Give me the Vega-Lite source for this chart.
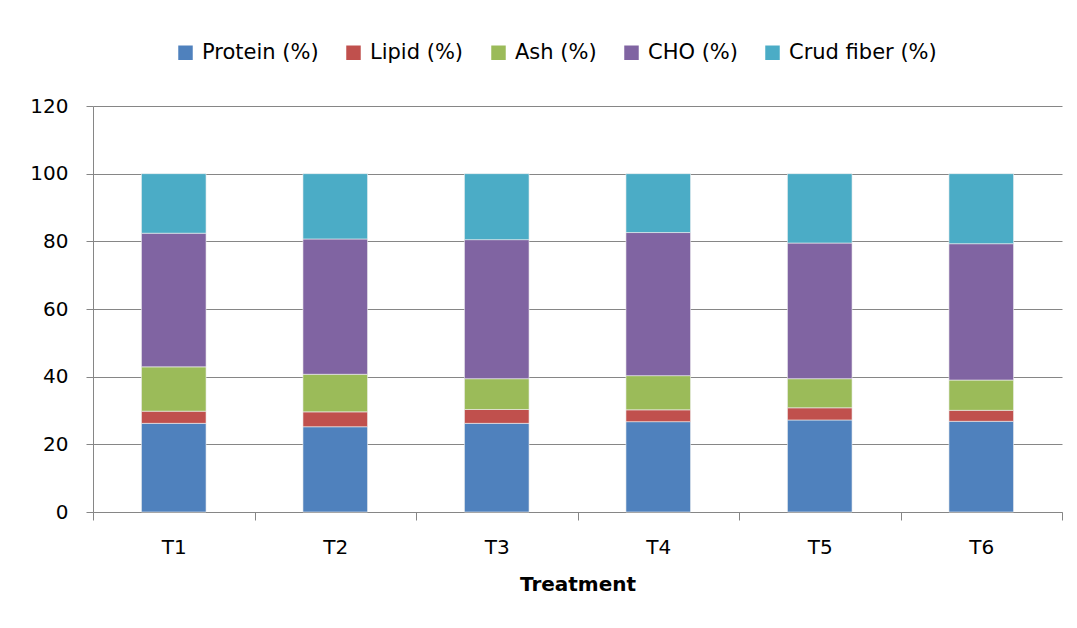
{
  "$schema": "https://vega.github.io/schema/vega-lite/v6.json",
  "width": 969,
  "height": 406,
  "autosize": {"type": "none"},
  "padding": {"left": 93, "top": 106, "right": 15, "bottom": 116},
  "background": "white",
  "config": {
    "font": "DejaVu Sans",
    "view": {"stroke": null},
    "axis": {"labelFont": "DejaVu Sans", "labelFontSize": 20, "labelColor": "black", "titleFont": "DejaVu Sans"}
  },
  "data": {
    "values": [
      {"treatment": "T1", "component": "Protein (%)", "value": 26.2},
      {"treatment": "T1", "component": "Lipid (%)", "value": 3.6},
      {"treatment": "T1", "component": "Ash (%)", "value": 13.1},
      {"treatment": "T1", "component": "CHO (%)", "value": 39.5},
      {"treatment": "T1", "component": "Crud fiber (%)", "value": 17.6},
      {"treatment": "T2", "component": "Protein (%)", "value": 25.2},
      {"treatment": "T2", "component": "Lipid (%)", "value": 4.4},
      {"treatment": "T2", "component": "Ash (%)", "value": 11.1},
      {"treatment": "T2", "component": "CHO (%)", "value": 40.0},
      {"treatment": "T2", "component": "Crud fiber (%)", "value": 19.3},
      {"treatment": "T3", "component": "Protein (%)", "value": 26.2},
      {"treatment": "T3", "component": "Lipid (%)", "value": 4.1},
      {"treatment": "T3", "component": "Ash (%)", "value": 9.1},
      {"treatment": "T3", "component": "CHO (%)", "value": 41.1},
      {"treatment": "T3", "component": "Crud fiber (%)", "value": 19.5},
      {"treatment": "T4", "component": "Protein (%)", "value": 26.7},
      {"treatment": "T4", "component": "Lipid (%)", "value": 3.5},
      {"treatment": "T4", "component": "Ash (%)", "value": 10.1},
      {"treatment": "T4", "component": "CHO (%)", "value": 42.3},
      {"treatment": "T4", "component": "Crud fiber (%)", "value": 17.4},
      {"treatment": "T5", "component": "Protein (%)", "value": 27.2},
      {"treatment": "T5", "component": "Lipid (%)", "value": 3.6},
      {"treatment": "T5", "component": "Ash (%)", "value": 8.6},
      {"treatment": "T5", "component": "CHO (%)", "value": 40.1},
      {"treatment": "T5", "component": "Crud fiber (%)", "value": 20.5},
      {"treatment": "T6", "component": "Protein (%)", "value": 26.8},
      {"treatment": "T6", "component": "Lipid (%)", "value": 3.25},
      {"treatment": "T6", "component": "Ash (%)", "value": 8.95},
      {"treatment": "T6", "component": "CHO (%)", "value": 40.3},
      {"treatment": "T6", "component": "Crud fiber (%)", "value": 20.7}
    ]
  },
  "transform": [
    {"calculate": "indexof(['Protein (%)', 'Lipid (%)', 'Ash (%)', 'CHO (%)', 'Crud fiber (%)'], datum.component)", "as": "stackRank"}
  ],
  "mark": {"type": "bar", "width": {"band": 0.4}, "stroke": "#f0f0f0", "strokeWidth": 0.6},
  "encoding": {
    "x": {
      "field": "treatment",
      "type": "nominal",
      "scale": {"paddingInner": 0, "paddingOuter": 0},
      "axis": {
        "title": "Treatment",
        "titleFontSize": 20,
        "titleFontWeight": "bold",
        "titleColor": "black",
        "titlePadding": 17,
        "labelAngle": 0,
        "labelPadding": 17,
        "tickBand": "extent",
        "tickSize": 8,
        "tickColor": "#868686",
        "domainColor": "#868686",
        "labelFontSize": 20
      }
    },
    "y": {
      "field": "value",
      "type": "quantitative",
      "stack": "zero",
      "scale": {"domain": [0, 120], "nice": false},
      "axis": {
        "title": null,
        "values": [0, 20, 40, 60, 80, 100, 120],
        "gridColor": "#868686",
        "gridWidth": 1,
        "tickSize": 7,
        "tickColor": "#868686",
        "domainColor": "#868686",
        "labelPadding": 18,
        "labelFontSize": 20
      }
    },
    "order": {"field": "stackRank", "type": "quantitative", "sort": "ascending"},
    "color": {
      "field": "component",
      "type": "nominal",
      "sort": ["Protein (%)", "Lipid (%)", "Ash (%)", "CHO (%)", "Crud fiber (%)"],
      "scale": {
        "domain": ["Protein (%)", "Lipid (%)", "Ash (%)", "CHO (%)", "Crud fiber (%)"],
        "range": ["#4F81BD", "#C0504D", "#9BBB59", "#8064A2", "#4BACC6"]
      },
      "legend": {
        "title": null,
        "orient": "none",
        "legendX": 82,
        "legendY": -64,
        "direction": "horizontal",
        "symbolType": "square",
        "symbolSize": 210,
        "symbolStrokeWidth": 0,
        "labelFontSize": 21,
        "labelColor": "black",
        "labelFont": "DejaVu Sans",
        "columnPadding": 24,
        "labelOffset": 6
      }
    }
  }
}
